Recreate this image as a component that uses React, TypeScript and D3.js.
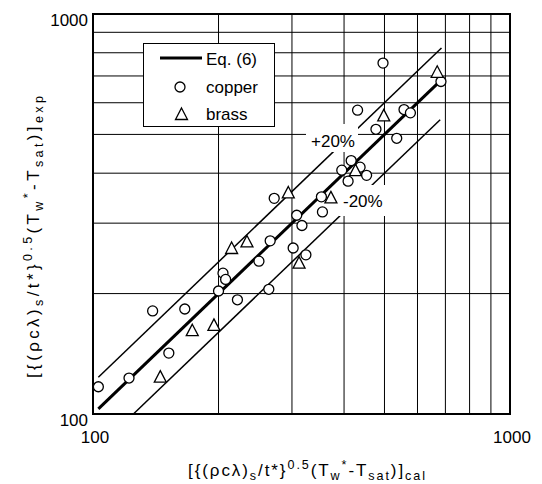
import React from 'react';
import * as d3 from 'd3';

// values (cal on x, exp on y)
const copperCal = [103, 122, 139, 166, 152, 200, 205, 208, 222, 264, 250, 266, 272, 302, 324, 308, 317, 355, 353, 409, 395, 416, 437, 453, 477, 535, 431, 557, 577, 496, 683];
const copperExp = [117, 123, 181, 183, 142, 203, 225, 217, 193, 205, 241, 271, 346, 260, 250, 314, 296, 320, 349, 382, 407, 430, 414, 395, 515, 489, 575, 577, 566, 754, 678];
const brassCal = [145, 173, 195, 215, 234, 294, 312, 372, 426, 498, 669];
const brassExp = [124, 162, 167, 260, 270, 358, 239, 348, 407, 558, 717];

const eqRange = [103, 670];
const plusRange = [103, 685];
const minusRange = [125, 680];
const axisTicks = [100, 1000];
const gridValues = [200, 300, 400, 500, 600, 700, 800, 900];

const W = 542;
const H = 484;
const FONT = '"Liberation Sans", Arial, sans-serif';

type Part = [string, 'n' | 'b' | 'p'];

const xTitle: Part[] = [['[{(ρcλ)', 'n'], ['s', 'b'], ['/t*}', 'n'], ['0.5', 'p'], ['(T', 'n'], ['w', 'b'], ['*', 'p'], ['-T', 'n'], ['sat', 'b'], [')]', 'n'], ['cal', 'b']];
const yTitle: Part[] = [['[{(ρcλ)', 'n'], ['s', 'b'], ['/t*}', 'n'], ['0.5', 'p'], ['(T', 'n'], ['w', 'b'], ['*', 'p'], ['-T', 'n'], ['sat', 'b'], [')]', 'n'], ['exp', 'b']];

const richText = (parts: Part[], size: number) => {
  const shift = { n: 0, b: 4, p: -7 };
  let cur = 0;
  return parts.map(([t, k], i) => {
    const dy = shift[k] - cur;
    cur = shift[k];
    return (
      <tspan key={i} dy={dy} fontSize={k === 'n' ? size : size * 0.74}>
        {t}
      </tspan>
    );
  });
};

const tri = (cx: number, cy: number) =>
  `M${cx},${cy - 6}L${cx + 6},${cy + 5.5}L${cx - 6},${cy + 5.5}Z`;

const App = () => {
  const x = d3.scaleLog().domain([100, 1000]).range([93, 510]);
  const y = d3.scaleLog().domain([100, 1000]).range([414, 14]);

  const line = d3.line<number[]>().x(d => x(d[0])).y(d => y(d[1]));
  const ref = (r: number[], f: number) => line([[r[0], r[0] * f], [r[1], r[1] * f]]) || '';

  const [x0, x1] = x.range();
  const [y0, y1] = y.range();

  return (
    <svg width={W} height={H} style={{ position: 'absolute', left: 0, top: 0 }} fontFamily={FONT}>
      <rect width={W} height={H} fill="#fff" />

      {/* grid */}
      {gridValues.map(v => (
        <line key={'vx' + v} x1={x(v)} x2={x(v)} y1={y1} y2={y0} stroke="#000" strokeWidth={1} />
      ))}
      {gridValues.map(v => (
        <line key={'hy' + v} x1={x0} x2={x1} y1={y(v)} y2={y(v)} stroke="#000" strokeWidth={1} />
      ))}

      {/* reference lines */}
      <path d={ref(plusRange, 1.2)} stroke="#000" strokeWidth={1.5} fill="none" />
      <path d={ref(minusRange, 0.8)} stroke="#000" strokeWidth={1.5} fill="none" />
      <path d={ref(eqRange, 1)} stroke="#000" strokeWidth={3} fill="none" />

      {/* line labels */}
      <rect x={306} y={124} width={52} height={28} fill="#fff" />
      <text x={311} y={147} fontSize={17}>+20%</text>
      <rect x={339} y={185} width={53} height={31} fill="#fff" />
      <text x={343} y={207} fontSize={17}>-20%</text>

      {/* markers */}
      {copperCal.map((v, i) => (
        <circle key={'c' + i} cx={x(v)} cy={y(copperExp[i])} r={5} fill="#fff" stroke="#000" strokeWidth={1.3} />
      ))}
      {brassCal.map((v, i) => (
        <path key={'b' + i} d={tri(x(v), y(brassExp[i]))} fill="#fff" stroke="#000" strokeWidth={1.3} />
      ))}

      {/* frame */}
      <rect x={x0} y={y1} width={x1 - x0} height={y0 - y1} fill="none" stroke="#000" strokeWidth={2} />

      {/* tick labels */}
      {axisTicks.map(v => (
        <text key={'tx' + v} x={x(v) + 2} y={443} fontSize={17} textAnchor="middle">{v}</text>
      ))}
      {axisTicks.map(v => (
        <text key={'ty' + v} x={88} y={y(v) + 12} fontSize={17} textAnchor="end">{v}</text>
      ))}

      {/* axis titles */}
      <text x={188} y={476} fontSize={17} textLength={237} lengthAdjust="spacing">
        {richText(xTitle, 17)}
      </text>
      <text transform="translate(39,378) rotate(-90)" fontSize={17} textLength={282} lengthAdjust="spacing">
        {richText(yTitle, 17)}
      </text>

      {/* legend */}
      <rect x={143.5} y={43.5} width={131} height={83} fill="#fff" stroke="#000" strokeWidth={1} />
      <line x1={160} x2={202} y1={58} y2={58} stroke="#000" strokeWidth={3} />
      <text x={206} y={65} fontSize={17}>Eq. (6)</text>
      <circle cx={180} cy={87} r={5} fill="#fff" stroke="#000" strokeWidth={1.3} />
      <text x={206} y={93} fontSize={17}>copper</text>
      <path d={tri(181.5, 114)} fill="#fff" stroke="#000" strokeWidth={1.3} />
      <text x={206} y={120} fontSize={17}>brass</text>
    </svg>
  );
};

export default App;
